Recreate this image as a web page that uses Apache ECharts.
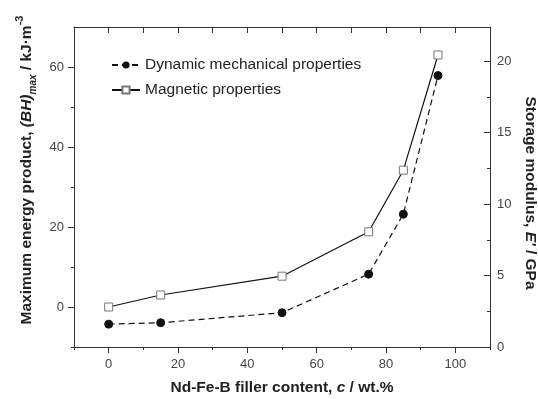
<!DOCTYPE html>
<html lang="en">
<head>
    <meta charset="UTF-8">
    <title></title>
    <style type="text/css">
        html,body{margin:0;padding:0;background:#fff;}
        #main{width:538px;height:399px;}
    </style>
</head>
<body>
<div id="main"></div>
<script src="https://cdn.jsdelivr.net/npm/echarts@6/dist/echarts.min.js"></script>
<script>
    // filler content, wt.%
    var content = [0, 15, 50, 75, 85, 95];
    // (BH)max, kJ/m3 (left axis)
    var magnetic = [0, 3, 7.7, 18.8, 34.2, 63];
    // storage modulus E', GPa (right axis)
    var modulus = [1.6, 1.7, 2.4, 5.1, 9.3, 19.0];

    var xLabels = [0, 20, 40, 60, 80, 100];
    var xMinor = [-10, 10, 30, 50, 70, 90, 110];
    var xTop = [0, 10, 20, 30, 40, 50, 60, 70, 80, 90, 100];
    var leftLabels = [0, 20, 40, 60];
    var leftMinor = [-10, 10, 30, 50];
    var rightLabels = [0, 5, 10, 15, 20];
    var rightMinor = [2.5, 7.5, 12.5, 17.5];

    function pairs(xs, ys) {
        return xs.map(function (x, i) { return [x, ys[i]]; });
    }

    var font = 'Liberation Sans, Arial, sans-serif';
    var axisColor = '#333';
    var titleSize = 15.5;
    var lineStyleAxis = {show: true, onZero: false, lineStyle: {color: axisColor, width: 1}};
    var noLine = {show: false, onZero: false};

    var myChart = echarts.init(document.getElementById('main'));

    option = {
        animation: false,
        textStyle: {fontFamily: font},
        grid: {left: 74, right: 48, top: 27, bottom: 52, containLabel: false, outerBoundsMode: 'none'},
        legend: {
            orient: 'vertical',
            left: 106,
            top: 52,
            itemWidth: 28,
            itemHeight: 9,
            itemGap: 9,
            symbolSize: 8,
            textStyle: {fontSize: 15.5, color: '#222', fontFamily: font},
            data: ['Dynamic mechanical properties', 'Magnetic properties']
        },
        xAxis: [{
            type: 'value', position: 'bottom', min: -10, max: 110,
            axisLine: lineStyleAxis,
            axisTick: {show: true, inside: false, length: 6, customValues: xLabels, lineStyle: {color: axisColor}},
            axisLabel: {customValues: xLabels, color: '#444', fontSize: 13, margin: 11},
            splitLine: {show: false},
            name: '{a|Nd-Fe-B filler content, }{i|c}{a| / wt.%}',
            nameLocation: 'middle',
            nameGap: 33,
            nameTextStyle: {
                rich: {
                    a: {fontSize: titleSize, fontWeight: 'bold', color: '#222', fontFamily: font},
                    i: {fontSize: titleSize, fontWeight: 'bold', fontStyle: 'italic', color: '#222', fontFamily: font}
                }
            }
        }, {
            type: 'value', position: 'bottom', min: -10, max: 110,
            axisLine: noLine,
            axisTick: {show: true, inside: false, length: 3, customValues: xMinor, lineStyle: {color: axisColor}},
            axisLabel: {show: false},
            splitLine: {show: false}
        }, {
            type: 'value', position: 'top', min: -10, max: 110,
            axisLine: lineStyleAxis,
            axisTick: {show: true, inside: true, length: 6, customValues: xTop, lineStyle: {color: axisColor}},
            axisLabel: {show: false},
            splitLine: {show: false}
        }],
        yAxis: [{
            type: 'value', position: 'left', min: -10, max: 70,
            axisLine: lineStyleAxis,
            axisTick: {show: true, inside: false, length: 6, customValues: leftLabels, lineStyle: {color: axisColor}},
            axisLabel: {customValues: leftLabels, color: '#444', fontSize: 13, margin: 10},
            splitLine: {show: false},
            name: '{a|Maximum energy product, }{i|(BH)}{sub|max}{a| / kJ·m}{sup|-3}',
            nameLocation: 'middle',
            nameRotate: 90,
            nameGap: 25,
            nameTextStyle: {
                padding: [0, 0, 0, 34],
                rich: {
                    a: {fontSize: titleSize, fontWeight: 'bold', color: '#222', lineHeight: 24, fontFamily: font},
                    i: {fontSize: titleSize, fontWeight: 'bold', fontStyle: 'italic', color: '#222', lineHeight: 24, fontFamily: font},
                    sub: {fontSize: 10, fontWeight: 'bold', fontStyle: 'italic', color: '#222', verticalAlign: 'bottom', lineHeight: 13, fontFamily: font},
                    sup: {fontSize: 11, fontWeight: 'bold', color: '#222', verticalAlign: 'top', lineHeight: 13, fontFamily: font}
                }
            }
        }, {
            type: 'value', position: 'left', min: -10, max: 70,
            axisLine: noLine,
            axisTick: {show: true, inside: false, length: 3, customValues: leftMinor, lineStyle: {color: axisColor}},
            axisLabel: {show: false},
            splitLine: {show: false}
        }, {
            type: 'value', position: 'right', min: 0, max: 22.4,
            axisLine: lineStyleAxis,
            axisTick: {show: true, inside: true, length: 6, customValues: rightLabels, lineStyle: {color: axisColor}},
            axisLabel: {customValues: rightLabels, color: '#444', fontSize: 13, margin: 7},
            splitLine: {show: false},
            name: '{a|Storage modulus, }{i|E\'}{a| / GPa}',
            nameLocation: 'middle',
            nameRotate: -90,
            nameGap: 23,
            nameTextStyle: {
                padding: [0, 0, 0, 12],
                rich: {
                    a: {fontSize: titleSize, fontWeight: 'bold', color: '#222', fontFamily: font},
                    i: {fontSize: titleSize, fontWeight: 'bold', fontStyle: 'italic', color: '#222', fontFamily: font}
                }
            }
        }, {
            type: 'value', position: 'right', min: 0, max: 22.4,
            axisLine: noLine,
            axisTick: {show: true, inside: true, length: 3, customValues: rightMinor, lineStyle: {color: axisColor}},
            axisLabel: {show: false},
            splitLine: {show: false}
        }],
        series: [{
            name: 'Dynamic mechanical properties',
            type: 'line',
            xAxisIndex: 0,
            yAxisIndex: 2,
            symbol: 'circle',
            symbolSize: 8,
            itemStyle: {color: '#111', borderColor: '#111'},
            lineStyle: {color: '#111', width: 1.2, type: [6, 4]},
            data: pairs(content, modulus)
        }, {
            name: 'Magnetic properties',
            type: 'line',
            xAxisIndex: 0,
            yAxisIndex: 0,
            symbol: 'rect',
            symbolSize: 8,
            itemStyle: {color: '#fff', borderColor: '#777', borderWidth: 1},
            lineStyle: {color: '#111', width: 1.2},
            data: pairs(content, magnetic)
        }]
    };

    myChart.setOption(option);
</script>
</body>
</html>
